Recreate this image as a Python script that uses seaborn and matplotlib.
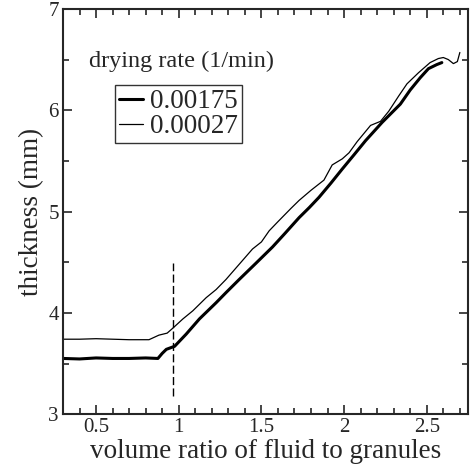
import matplotlib
matplotlib.use("Agg")
import matplotlib.pyplot as plt
import seaborn as sns
import pandas as pd
from matplotlib.ticker import MultipleLocator, FormatStrFormatter

# drying rate 0.00175 1/min (thick curve)
fast_x = [0.30, 0.40, 0.50, 0.60, 0.70, 0.80, 0.874, 0.90, 0.925, 0.975, 1.045,
          1.125, 1.226, 1.286, 1.366, 1.467, 1.567, 1.64, 1.728, 1.79, 1.848,
          1.92, 1.989, 2.06, 2.13, 2.23, 2.34, 2.40, 2.46, 2.51, 2.56, 2.591]
fast_y = [3.55, 3.545, 3.555, 3.55, 3.55, 3.555, 3.55, 3.60, 3.64, 3.67, 3.79,
          3.94, 4.10, 4.20, 4.33, 4.49, 4.65, 4.78, 4.94, 5.04, 5.14,
          5.28, 5.42, 5.56, 5.70, 5.88, 6.06, 6.20, 6.32, 6.41, 6.45, 6.47]

# drying rate 0.00027 1/min (thin curve)
slow_x = [0.30, 0.40, 0.50, 0.60, 0.70, 0.82, 0.88, 0.93, 0.965, 1.025, 1.085,
          1.166, 1.226, 1.286, 1.366, 1.446, 1.50, 1.547, 1.60, 1.678, 1.728,
          1.80, 1.878, 1.928, 1.989, 2.03, 2.079, 2.16, 2.22, 2.27, 2.33, 2.38,
          2.45, 2.52, 2.57, 2.60, 2.63, 2.661, 2.685, 2.70]
slow_y = [3.74, 3.74, 3.745, 3.74, 3.735, 3.735, 3.78, 3.80, 3.85, 3.94, 4.02,
          4.15, 4.23, 4.33, 4.48, 4.63, 4.70, 4.81, 4.90, 5.03, 5.11,
          5.21, 5.31, 5.46, 5.52, 5.58, 5.69, 5.85, 5.89, 5.99, 6.14, 6.26,
          6.37, 6.47, 6.51, 6.52, 6.50, 6.46, 6.48, 6.57]

series_labels = ["0.00175", "0.00027"]
marker_x = 0.963
marker_y = [3.18, 4.49]

sns.set_style("ticks")
plt.rcParams['font.family'] = ['Liberation Serif', 'DejaVu Serif']

df_fast = pd.DataFrame({"x": fast_x, "y": fast_y})
df_slow = pd.DataFrame({"x": slow_x, "y": slow_y})

fig = plt.figure(figsize=(4.7, 4.68), dpi=100)
ax = fig.add_axes([0.134, 0.115, 0.862, 0.866])

sns.lineplot(data=df_fast, x="x", y="y", ax=ax, color="black", linewidth=2.2,
             label=series_labels[0], sort=False)
sns.lineplot(data=df_slow, x="x", y="y", ax=ax, color="black", linewidth=0.9,
             label=series_labels[1], sort=False)
ax.plot([marker_x, marker_x], marker_y, color="black", linewidth=1.0,
        linestyle=(0, (5.8, 2.4)))

ax.set_xlim(0.3, 2.75)
ax.set_ylim(3, 7)
ax.xaxis.set_major_locator(MultipleLocator(0.5))
ax.xaxis.set_minor_locator(MultipleLocator(0.1))
ax.yaxis.set_major_locator(MultipleLocator(1))
ax.yaxis.set_minor_locator(MultipleLocator(0.5))
ax.xaxis.set_major_formatter(FormatStrFormatter("%g"))
ax.tick_params(which="both", direction="in", top=True, right=True,
               labelsize=15, width=1.2, pad=3)
ax.tick_params(which="major", length=6.5)
ax.tick_params(which="minor", length=4)
for sp in ax.spines.values():
    sp.set_linewidth(1.5)

ax.set_xlabel("volume ratio of fluid to granules", fontsize=19.5, labelpad=1)
ax.set_ylabel("thickness (mm)", fontsize=19.5, labelpad=3)

ax.text(0.46, 6.43, "drying rate (1/min)", fontsize=17.5, va="baseline")
leg = ax.legend(loc="upper left", bbox_to_anchor=(0.128, 0.812), fontsize=19.5,
                frameon=True, fancybox=False, handlelength=0.9,
                handletextpad=0.25, labelspacing=0.0, borderpad=0.15,
                borderaxespad=0)
leg.get_frame().set_edgecolor("black")
leg.get_frame().set_linewidth(1.0)

fig.savefig("out.png", dpi=100)
